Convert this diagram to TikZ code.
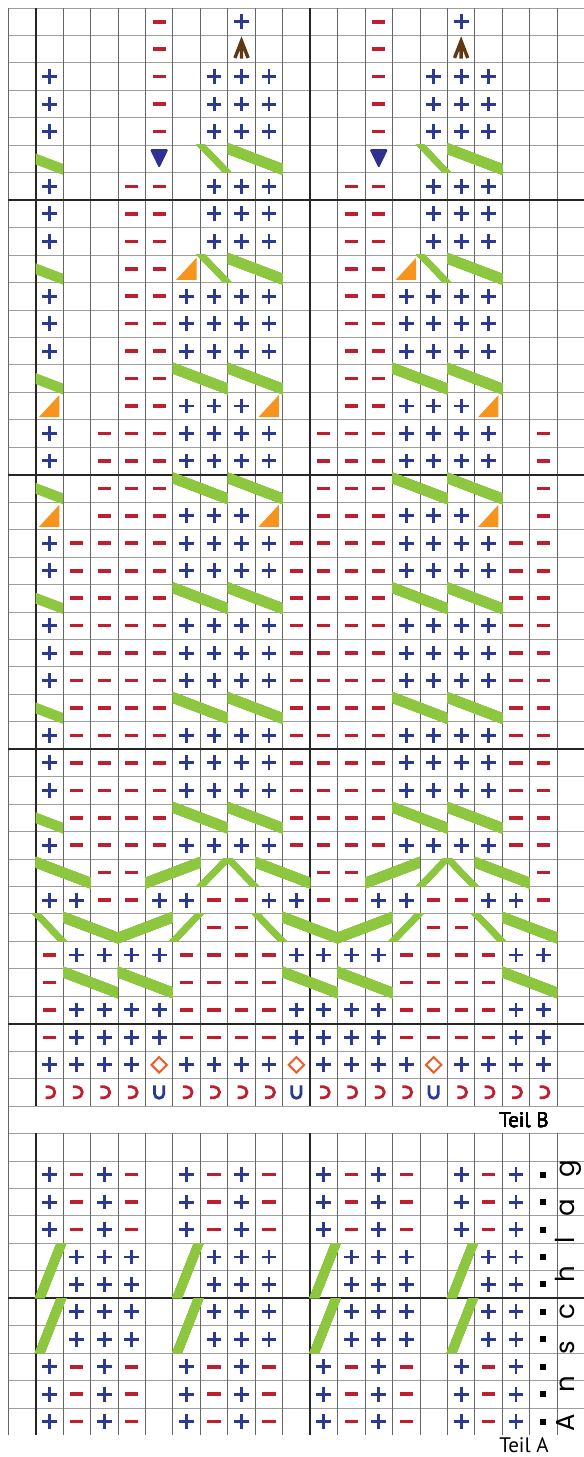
\documentclass[tikz,border=0pt]{standalone}
\usepackage{fontspec}
\newfontfamily\teilfont{PT Sans}
\newfontfamily\anschlagfont{Poppins}
\definecolor{knitblue}{HTML}{2B3990}
\definecolor{knitred}{HTML}{BE1E2D}
\definecolor{cablegreen}{HTML}{8DC63F}
\definecolor{wedgeorange}{HTML}{F7941D}
\definecolor{dropnavy}{HTML}{2E3192}
\definecolor{decbrown}{HTML}{603913}
\definecolor{incorange}{HTML}{F15A29}
\newcommand{\knitx}[2]{}
\newcommand{\knitp}[2]{\draw[plusst] (#1+0.5,#2+0.23) -- (#1+0.5,#2+0.77) (#1+0.23,#2+0.5) -- (#1+0.77,#2+0.5);}
\newcommand{\knitm}[2]{\draw[minusst] (#1+0.26,#2+0.5) -- (#1+0.74,#2+0.5);}
\newcommand{\knitA}[2]{\draw[decst] (#1+0.26,#2+0.82) -- (#1+0.5,#2+0.2) -- (#1+0.74,#2+0.82) (#1+0.5,#2+0.3) -- (#1+0.5,#2+0.84);}
\newcommand{\knitV}[2]{\fill[dropnavy,rounded corners=0.8pt] (#1+0.16,#2+0.14) -- (#1+0.84,#2+0.14) -- (#1+0.5,#2+0.84) -- cycle;}
\newcommand{\knitT}[2]{\fill[wedgeorange] (#1+0.12,#2+0.9) -- (#1+0.86,#2+0.9) -- (#1+0.86,#2+0.1) -- cycle;}
\newcommand{\knitD}[2]{\draw[incst] (#1+0.5,#2+0.22) -- (#1+0.78,#2+0.5) -- (#1+0.5,#2+0.78) -- (#1+0.22,#2+0.5) -- cycle;}
\newcommand{\knitO}[2]{\draw[loopst,knitred] (#1+0.36,#2+0.3) -- (#1+0.5,#2+0.3) arc[start angle=-90,end angle=90,radius=0.2] -- (#1+0.36,#2+0.7);}
\newcommand{\knitU}[2]{\draw[loopst,knitblue] (#1+0.33,#2+0.25) -- (#1+0.33,#2+0.55) arc[start angle=180,end angle=0,radius=0.17] -- (#1+0.67,#2+0.25);}
\newcommand{\knitS}[2]{\fill (#1+0.39,#2+0.39) rectangle (#1+0.61,#2+0.61);}
\newcommand{\knitrow}[2]{\foreach \sy [count=\cx] in {#2} {\csname knit\sy\endcsname{\cx}{#1}}}
\newcommand{\edgefall}[1]{\fill[cablegreen] (1,#1+0.3) -- (2,#1+0.68) -- (2,#1+1.08) -- (1,#1+0.7) -- cycle;}
\newcommand{\longfall}[2]{\fill[cablegreen] (#1,#2-0.08) -- (#1+2,#2+0.68) -- (#1+2,#2+1.08) -- (#1,#2+0.32) -- cycle;}
\newcommand{\longrise}[2]{\fill[cablegreen] (#1,#2+0.68) -- (#1+2,#2-0.08) -- (#1+2,#2+0.32) -- (#1,#2+1.08) -- cycle;}
\newcommand{\shortfall}[2]{\fill[cablegreen] (#1-0.15,#2-0.02) -- (#1+0.17,#2-0.02) -- (#1+1.15,#2+1) -- (#1+0.83,#2+1) -- cycle;}
\newcommand{\shortrise}[2]{\fill[cablegreen] (#1+0.83,#2-0.02) -- (#1+1.15,#2-0.02) -- (#1+0.17,#2+1) -- (#1-0.15,#2+1) -- cycle;}
\newcommand{\tallrise}[2]{\fill[cablegreen] (#1-0.03,#2+2) -- (#1+0.33,#2+2) -- (#1+1.12,#2) -- (#1+0.76,#2) -- cycle;}
\begin{document}
\begin{tikzpicture}[x=13.725pt,y=-13.725pt,line join=round,
  gridv/.style={line width=0.45pt,draw=black!60},
  gridh/.style={line width=0.4pt,draw=black!38},
  gridbold/.style={line width=1.1pt,draw=black!85},
  plusst/.style={draw=knitblue,line width=1.45pt},
  minusst/.style={draw=knitred,line width=1.8pt},
  decst/.style={draw=decbrown,line width=1.7pt,line join=miter},
  incst/.style={draw=incorange,line width=1pt,line join=miter},
  loopst/.style={line width=1.4pt}]
  \fill[white] (-0.2987,-0.2914) rectangle (20.976,52.787);
  \useasboundingbox (-0.2987,-0.2914) rectangle (20.976,52.787);
  \foreach \r in {0,...,51} \draw[gridh] (0,\r) -- (20.98,\r);
  \foreach \cx in {0,...,20} {
    \draw[gridv] (\cx,0) -- (\cx,40);
    \draw[gridv] (\cx,41) -- (\cx,52);
  }
  \draw[gridv] (0,40) -- (0,41);
  \foreach \r in {7,17,27,37,47} \draw[gridbold] (0,\r) -- (20.98,\r);
  \foreach \cx in {1,11} {
    \draw[gridbold] (\cx,0) -- (\cx,40);
    \draw[gridbold] (\cx,41) -- (\cx,52);
  }
  \knitrow{0}{x,x,x,x,m,x,x,p,x,x,x,x,m,x,x,p,x,x,x}
  \knitrow{1}{x,x,x,x,m,x,x,A,x,x,x,x,m,x,x,A,x,x,x}
  \foreach \r in {2,3,4} {\knitrow{\r}{p,x,x,x,m,x,p,p,p,x,x,x,m,x,p,p,p,x,x}}
  \knitrow{5}{x,x,x,x,V,x,x,x,x,x,x,x,V,x,x,x,x,x,x}
  \foreach \r in {6,7,8} {\knitrow{\r}{p,x,x,m,m,x,p,p,p,x,x,m,m,x,p,p,p,x,x}}
  \knitrow{9}{x,x,x,m,m,T,x,x,x,x,x,m,m,T,x,x,x,x,x}
  \foreach \r in {10,11,12} {\knitrow{\r}{p,x,x,m,m,p,p,p,p,x,x,m,m,p,p,p,p,x,x}}
  \knitrow{13}{x,x,x,m,m,x,x,x,x,x,x,m,m,x,x,x,x,x,x}
  \knitrow{14}{T,x,x,m,m,p,p,p,T,x,x,m,m,p,p,p,T,x,x}
  \foreach \r in {15,16} {\knitrow{\r}{p,x,m,m,m,p,p,p,p,x,m,m,m,p,p,p,p,x,m}}
  \knitrow{17}{x,x,m,m,m,x,x,x,x,x,m,m,m,x,x,x,x,x,m}
  \knitrow{18}{T,x,m,m,m,p,p,p,T,x,m,m,m,p,p,p,T,x,m}
  \foreach \r in {19,20,22,23,24,26,27,28,30} {\knitrow{\r}{p,m,m,m,m,p,p,p,p,m,m,m,m,p,p,p,p,m,m}}
  \foreach \r in {21,25,29} {\knitrow{\r}{x,m,m,m,m,x,x,x,x,m,m,m,m,x,x,x,x,m,m}}
  \knitrow{31}{x,x,m,m,x,x,x,x,x,x,m,m,x,x,x,x,x,x,m}
  \knitrow{32}{p,p,m,m,p,p,m,m,p,p,m,m,p,p,m,m,p,p,m}
  \knitrow{33}{x,x,x,x,x,x,m,m,x,x,x,x,x,x,m,m,x,x,x}
  \foreach \r in {34,36,37} {\knitrow{\r}{m,p,p,p,p,m,m,m,m,p,p,p,p,m,m,m,m,p,p}}
  \knitrow{35}{m,x,x,x,x,m,m,m,m,x,x,x,x,m,m,m,m,x,x}
  \knitrow{38}{p,p,p,p,D,p,p,p,p,D,p,p,p,p,D,p,p,p,p}
  \knitrow{39}{O,O,O,O,U,O,O,O,O,U,O,O,O,O,U,O,O,O,O}
  \foreach \r in {42,43,44,49,50,51} {\knitrow{\r}{p,m,p,m,x,p,m,p,m,x,p,m,p,m,x,p,m,p,S}}
  \foreach \r in {45,46,47,48} {\knitrow{\r}{x,p,p,p,x,x,p,p,p,x,x,p,p,p,x,x,p,p,S}}
  \foreach \r in {5,9,13,17,21,25,29} \edgefall{\r}
  \foreach \r in {5,9} {\shortfall{7}{\r} \longfall{8}{\r} \shortfall{15}{\r} \longfall{16}{\r}}
  \foreach \r in {13,17,21,25,29} {\foreach \cx in {6,8,14,16} {\longfall{\cx}{\r}}}
  \longfall{1}{31} \longrise{5}{31} \shortrise{7}{31} \shortfall{8}{31} \longfall{9}{31}
  \longrise{13}{31} \shortrise{15}{31} \shortfall{16}{31} \longfall{17}{31}
  \shortfall{1}{33} \longfall{2}{33} \longrise{4}{33} \shortrise{6}{33} \shortfall{9}{33}
  \longfall{10}{33} \longrise{12}{33} \shortrise{14}{33} \shortfall{17}{33} \longfall{18}{33}
  \foreach \cx in {2,4,10,12,18} {\longfall{\cx}{35}}
  \foreach \cx in {1,6,11,16} {\tallrise{\cx}{45} \tallrise{\cx}{47}}
  \node[anchor=east,inner sep=0pt,font=\teilfont\fontsize{10.5}{12}\selectfont] (teilB) at (19.7,40.5) {Teil B};
  \node[anchor=east,inner sep=0pt,font=\teilfont\fontsize{10.5}{12}\selectfont] (teilA) at (19.7,52.35) {Teil A};
  \node[rotate=90,inner sep=0pt,font=\anschlagfont\fontsize{13}{13}\selectfont] (anschlag) at (20.42,46.9)
    {\makebox[136pt]{A\hfill n\hfill s\hfill c\hfill h\hfill l\hfill a\hfill g}};
\end{tikzpicture}
\end{document}
